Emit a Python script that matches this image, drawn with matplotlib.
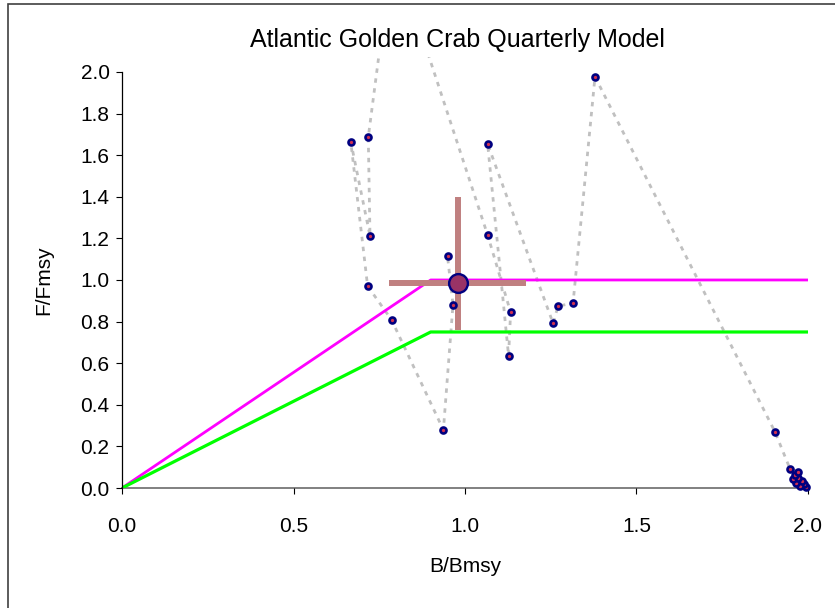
import matplotlib
matplotlib.use("Agg")
import matplotlib.pyplot as plt
from matplotlib.patches import Rectangle

plt.rcParams['font.family'] = ['Liberation Sans', 'DejaVu Sans']

# stock trajectory, in time order (B/Bmsy, F/Fmsy)
b_ratio = [1.995, 1.988, 1.978, 1.983, 1.965, 1.970, 1.955, 1.962, 1.972, 1.948,
           1.904, 1.379, 1.315, 1.271, 1.257, 1.066, 1.127, 1.133, 1.066, 0.79,
           0.718, 0.723, 0.667, 0.716, 0.786, 0.937, 0.965, 0.949]
f_ratio = [0.004, 0.018, 0.012, 0.032, 0.025, 0.048, 0.045, 0.062, 0.078, 0.090,
           0.269, 1.977, 0.889, 0.874, 0.791, 1.654, 0.636, 0.845, 1.216, 2.60,
           1.687, 1.212, 1.665, 0.971, 0.808, 0.279, 0.882, 1.114]

# current status with its uncertainty
cur_b = 0.980
cur_f = 0.987
cur_b_err = [[0.202], [0.198]]
cur_f_err = [[0.227], [0.413]]

# control rules
rule_b = [0.0, 0.9, 2.0]
limit_f = [0.0, 1.0, 1.0]
target_f = [0.0, 0.75, 0.75]

xticks = [0.0, 0.5, 1.0, 1.5, 2.0]
yticks = [0.0, 0.2, 0.4, 0.6, 0.8, 1.0, 1.2, 1.4, 1.6, 1.8, 2.0]

fig = plt.figure(figsize=(8.35, 6.08), dpi=100)
ax = fig.add_axes([122 / 835, 120 / 608, 686 / 835, 430.6 / 608])

# trajectory line (dashed grey) then the points
ax.plot(b_ratio, f_ratio, color='#C0C0C0', lw=2.0, linestyle=(0, (1.6, 2.0)), zorder=1)
ax.plot(rule_b, limit_f, color='#FF00FF', lw=2.0, zorder=2)
ax.plot(rule_b, target_f, color='#00FF00', lw=2.3, zorder=2)

# crosshair for current estimate
ax.errorbar([cur_b], [cur_f], xerr=cur_b_err, yerr=cur_f_err, fmt='none',
            ecolor='#C08080', elinewidth=4.3, capsize=0, zorder=3)

ax.plot(b_ratio, f_ratio, linestyle='none', marker='o', ms=4.3, mew=1.9,
        mfc='#D03050', mec='#000080', zorder=4, clip_on=False)
ax.plot([cur_b], [cur_f], linestyle='none', marker='o', ms=13.5, mew=1.7,
        mfc='#993366', mec='#000080', zorder=5)

ax.set_xlim(0, 2.0)
ax.set_ylim(0, 2.07)
ax.set_xticks(xticks)
ax.set_yticks(yticks)
ax.set_xticklabels(['%.1f' % v for v in xticks])
ax.set_yticklabels(['%.1f' % v for v in yticks])

ax.spines['top'].set_visible(False)
ax.spines['right'].set_visible(False)
ax.spines['left'].set_bounds(0, 2.0)
ax.spines['left'].set_color('black')
ax.spines['left'].set_linewidth(0.9)
ax.spines['bottom'].set_color('#808080')
ax.spines['bottom'].set_linewidth(1.4)
ax.spines['bottom'].set_zorder(0.5)

ax.tick_params(axis='y', direction='out', length=4, width=0.8, pad=5, labelsize=15)
ax.tick_params(axis='x', direction='out', length=4, width=0.8, pad=17, labelsize=15)

fig.text(457 / 835, 1 - 40 / 608, 'Atlantic Golden Crab Quarterly Model',
         ha='center', va='center', fontsize=18)
fig.text(465 / 835, 1 - 567 / 608, 'B/Bmsy', ha='center', va='center', fontsize=15)
fig.text(44 / 835, 1 - 280 / 608, 'F/Fmsy', ha='center', va='center',
         rotation=90, fontsize=15)

# outer frame (only top and left edges fall inside the picture)
fig.patches.append(Rectangle((7.5 / 835, -0.1), 1.2, 1.1 - 4.5 / 608,
                             transform=fig.transFigure, fill=False,
                             ec='#404040', lw=1.2))

fig.savefig('out.png', dpi=100)
